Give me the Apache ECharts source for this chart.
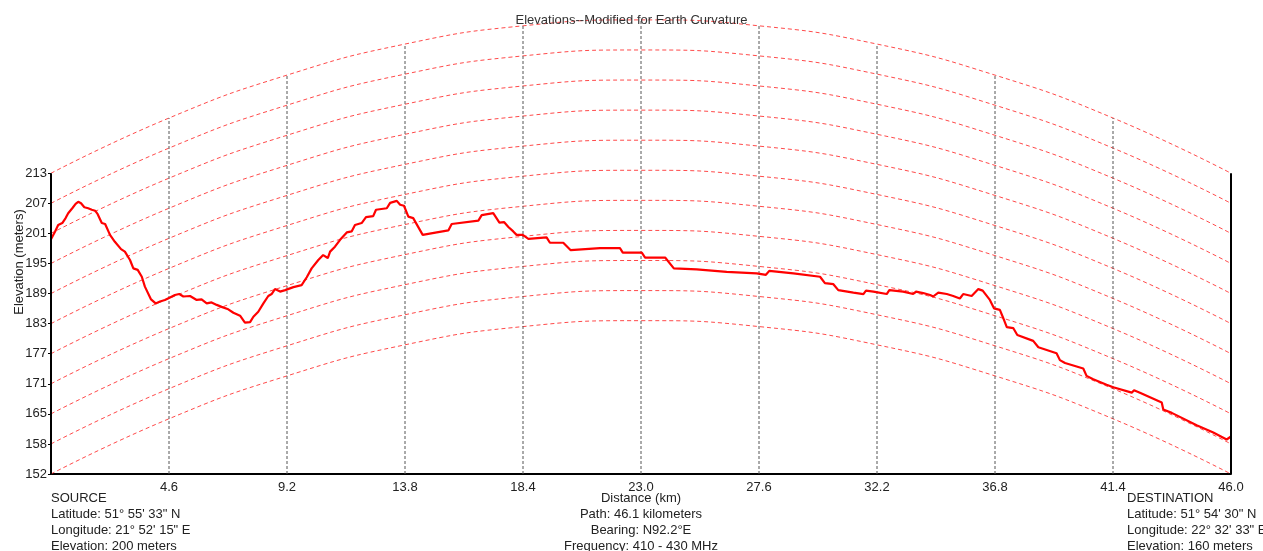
<!DOCTYPE html>
<html><head><meta charset="utf-8">
<script src="https://cdn.jsdelivr.net/npm/echarts@6/dist/echarts.min.js"></script>
<style>html,body{margin:0;padding:0;background:#fff}#c{width:1263px;height:551px}</style>
</head><body><div id="c"></div>
<script>
const titleText = 'Elevations--Modified for Earth Curvature';
const yAxisName = 'Elevation (meters)';
const xAxisName = 'Distance (km)';
const sourceLines = ['SOURCE', 'Latitude: 51° 55\' 33" N', 'Longitude: 21° 52\' 15" E', 'Elevation: 200 meters'];
const pathLines = ['Path: 46.1 kilometers', 'Bearing: N92.2°E', 'Frequency: 410 - 430 MHz'];
const destLines = ['DESTINATION', 'Latitude: 51° 54\' 30" N', 'Longitude: 22° 32\' 33" E', 'Elevation: 160 meters'];

const tickKm = [0, 4.6, 9.2, 13.8, 18.4, 23.0, 27.6, 32.2, 36.8, 41.4, 46.0];
const xTickLabels = ['', '4.6', '9.2', '13.8', '18.4', '23.0', '27.6', '32.2', '36.8', '41.4', '46.0'];
// earth-curvature bulge (m) at each tick, read from the arcs
const bulge = [0, 11.2, 19.9, 26.2, 29.9, 31.1, 29.9, 26.2, 19.9, 11.2, 0];
const levelValues = [152, 158.1, 164.2, 170.3, 176.4, 182.5, 188.6, 194.7, 200.8, 206.9, 213];
const yTickLabels = ['152', '158', '165', '171', '177', '183', '189', '195', '201', '207', '213'];

const profileKm = [
  0, 0.16, 0.28, 0.44, 0.57, 0.67, 0.83, 0.96, 1.06, 1.17,
  1.30, 1.45, 1.59, 1.72, 1.82, 1.98, 2.11, 2.30, 2.49, 2.73,
  2.88, 3.08, 3.21, 3.38, 3.54, 3.66, 3.90, 4.08, 4.25, 4.44,
  4.64, 4.83, 5.00, 5.16, 5.42, 5.68, 5.87, 6.07, 6.26, 6.46,
  6.65, 6.91, 7.11, 7.37, 7.56, 7.76, 7.89, 8.08, 8.28, 8.47,
  8.60, 8.73, 8.93, 9.13, 9.45, 9.77, 9.97, 10.16, 10.42, 10.61,
  10.79, 10.88, 11.07, 11.27, 11.53, 11.72, 11.85, 12.11, 12.28, 12.56,
  12.67, 13.09, 13.22, 13.48, 13.61, 13.76, 13.93, 14.12, 14.49, 15.04,
  15.49, 15.62, 16.66, 16.79, 17.24, 17.48, 17.66, 17.83, 18.02, 18.15,
  18.39, 18.61, 19.32, 19.45, 19.97, 20.26, 21.40, 22.18, 22.29, 23.03,
  23.16, 23.94, 24.00, 24.28, 25.17, 26.34, 27.51, 27.87, 28.00, 28.94,
  29.98, 30.17, 30.50, 30.69, 31.28, 31.67, 31.77, 32.06, 32.58, 32.68,
  33.22, 33.61, 33.72, 34.00, 34.27, 34.39, 34.59, 34.92, 35.17, 35.43,
  35.56, 35.89, 36.15, 36.32, 36.60, 36.76, 36.99, 37.10, 37.26, 37.51,
  37.67, 38.29, 38.49, 39.20, 39.33, 39.53, 40.24, 40.37, 40.63, 41.15,
  41.41, 42.13, 42.22, 42.45, 43.30, 43.36, 43.69, 44.66, 45.31, 45.83,
  46.0
];
const profileElev = [
  199.6, 201.2, 202.5, 202.9, 203.9, 204.9, 205.9, 206.8, 207.2, 206.9,
  206.1, 205.9, 205.6, 205.4, 204.7, 202.9, 202.7, 200.5, 199.1, 197.6,
  197.1, 195.4, 193.7, 193.4, 192.0, 190.0, 187.4, 186.6, 187.0, 187.3,
  187.8, 188.3, 188.5, 188.0, 188.1, 187.3, 187.4, 186.6, 186.8, 186.3,
  185.9, 185.4, 184.7, 184.1, 182.7, 182.8, 183.9, 184.9, 186.6, 188.1,
  188.5, 189.5, 189.0, 189.3, 189.9, 190.3, 191.9, 193.7, 195.4, 196.4,
  195.8, 197.1, 198.1, 199.5, 201.0, 201.2, 202.5, 202.9, 204.1, 204.3,
  205.6, 205.9, 207.0, 207.4, 206.6, 206.4, 204.2, 203.9, 200.5, 201.0,
  201.4, 202.7, 203.4, 204.5, 204.9, 203.0, 203.1, 202.1, 201.2, 200.5,
  200.5, 199.7, 200.0, 198.9, 198.9, 197.4, 197.8, 197.8, 196.9, 196.9,
  195.9, 195.9, 195.6, 193.7, 193.5, 193.0, 192.7, 192.4, 193.2, 192.7,
  192.0, 190.7, 190.5, 189.3, 188.8, 188.5, 189.2, 189.0, 188.5, 189.3,
  189.0, 188.5, 189.0, 188.7, 188.3, 188.0, 188.8, 188.5, 188.1, 187.6,
  188.5, 188.1, 189.5, 189.2, 187.3, 185.6, 185.3, 183.9, 181.8, 181.6,
  180.2, 179.0, 177.7, 176.5, 175.1, 174.5, 173.4, 171.9, 171.2, 170.1,
  169.6, 168.5, 169.0, 168.5, 166.5, 165.1, 164.4, 161.9, 160.4, 159.0,
  159.6
];

const FONT = '"Liberation Sans", Arial, sans-serif';
const TXT = '#222';
const FS = 13;
const yMin = levelValues[0];
const yTop = levelValues[levelValues.length - 1];
const yStep = levelValues[1] - levelValues[0];

const series = [];
// curvature arcs
levelValues.forEach(function (L) {
  series.push({
    type: 'line', silent: true, symbol: 'none', smooth: true, z: 1,
    data: tickKm.map(function (k, i) { return [k, L + bulge[i]]; }),
    lineStyle: { color: '#ff2a2a', width: 1, type: [4, 3], opacity: 0.85 }
  });
});
// vertical dashed lines at ticks
tickKm.forEach(function (k, i) {
  if (i === 0 || i === tickKm.length - 1) return;
  series.push({
    type: 'line', silent: true, symbol: 'none', z: 2,
    data: [[k, yMin], [k, yTop + bulge[i]]],
    lineStyle: { color: '#555', width: 1, type: [3, 2] }
  });
});
// left and right axis lines
[tickKm[0], tickKm[tickKm.length - 1]].forEach(function (k) {
  series.push({
    type: 'line', silent: true, symbol: 'none', z: 4,
    data: [[k, yMin], [k, yTop]],
    lineStyle: { color: '#000', width: 2 }
  });
});
// elevation profile
series.push({
  type: 'line', symbol: 'none', z: 3,
  data: profileKm.map(function (k, i) { return [k, profileElev[i]]; }),
  lineStyle: { color: '#ff0000', width: 2.2 }
});

function textBlock(lines, x, y0, align) {
  return lines.map(function (t, i) {
    return { type: 'text', x: x, y: y0 + i * 16,
      style: { text: t, fill: TXT, font: FS + 'px ' + FONT, textAlign: align, textVerticalAlign: 'middle' } };
  });
}

const graphics = [].concat(
  textBlock(sourceLines, 51, 498, 'left'),
  textBlock([xAxisName].concat(pathLines), 641, 498, 'center'),
  textBlock(destLines, 1127, 498, 'left'),
  [{ type: 'text', x: 19, y: 262, rotation: Math.PI / 2,
     style: { text: yAxisName, fill: TXT, font: FS + 'px ' + FONT, textAlign: 'center', textVerticalAlign: 'middle' } }]
);

const chart = echarts.init(document.getElementById('c'), null, { renderer: 'canvas' });
chart.setOption({
  animation: false,
  backgroundColor: '#fff',
  title: { text: titleText, left: 'center', top: 9,
    textStyle: { fontSize: FS, fontWeight: 'normal', color: '#333', fontFamily: FONT } },
  grid: { left: 51, right: 32, top: 13, bottom: 77 },
  xAxis: {
    type: 'value', min: 0, max: 46,
    axisLine: { lineStyle: { color: '#000', width: 2 } },
    axisTick: { show: false },
    splitLine: { show: false },
    axisLabel: {
      customValues: tickKm.slice(1),
      formatter: function (v) { return xTickLabels[Math.round(v / 4.6)]; },
      color: TXT, fontSize: FS, fontFamily: FONT, margin: 7
    }
  },
  yAxis: {
    type: 'value', min: yMin, max: 245.5,
    axisLine: { show: false },
    splitLine: { show: false },
    axisTick: { show: true, customValues: levelValues, length: 3, lineStyle: { color: '#000' } },
    axisLabel: {
      customValues: levelValues,
      formatter: function (v) { return yTickLabels[Math.round((v - yMin) / yStep)]; },
      color: TXT, fontSize: FS, fontFamily: FONT, margin: 4
    }
  },
  graphic: graphics,
  series: series
});
</script>
</body></html>
